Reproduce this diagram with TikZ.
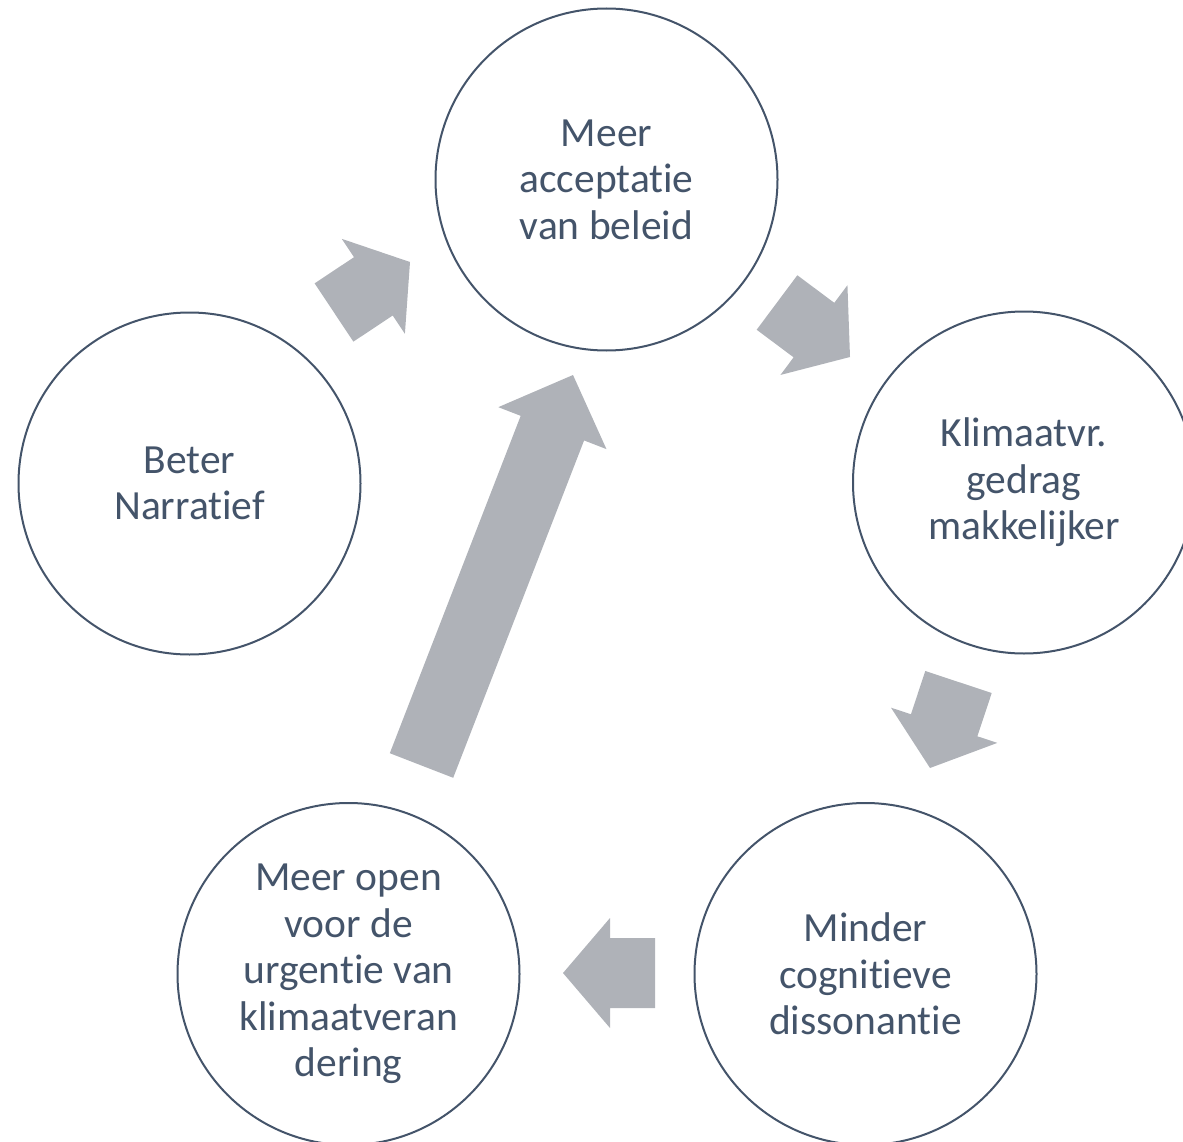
\documentclass[tikz,border=0pt]{standalone}
\usepackage{fontspec}
\setmainfont{Carlito}[Ligatures={NoCommon,NoContextual}]
\usetikzlibrary{calc}
\definecolor{txt}{RGB}{68,84,106}
\definecolor{arr}{RGB}{175,178,184}
\tikzset{
  stage/.style={circle, draw=txt, line width=2pt, minimum size=342pt, inner sep=0pt,
    align=center, text=txt, font=\fontsize{41.5}{46.5}\selectfont},
  blockfill/.style={fill=arr, draw=none}
}
% #1 tail coordinate, #2 tip coordinate, #3 half shaft width, #4 half head width, #5 head length
\newcommand\blockarrow[5]{%
  \coordinate (hb) at ($(#2)!#5!(#1)$);
  \fill[blockfill] ($(#1)!#3!90:(#2)$) -- ($(hb)!#3!90:(#2)$) -- ($(hb)!#4!90:(#2)$) -- (#2)
    -- ($(hb)!#4!-90:(#2)$) -- ($(hb)!#3!-90:(#2)$) -- ($(#1)!#3!-90:(#2)$) -- cycle;
}
\begin{document}
\begin{tikzpicture}[x=1pt,y=-1pt]
\useasboundingbox (0,0) rectangle (1183,1142);
% arrow end points
\coordinate (a1s) at (334,312.5);  \coordinate (a1e) at (410,262);
\coordinate (a2s) at (777,302.5);  \coordinate (a2e) at (850,357);
\coordinate (a3s) at (958.5,682);  \coordinate (a3e) at (930,768);
\coordinate (a4s) at (655,973);    \coordinate (a4e) at (563,973);
\coordinate (a5s) at (421.5,765.5);\coordinate (a5e) at (573,375);
\blockarrow{a1s}{a1e}{35pt}{57pt}{44pt}
\blockarrow{a2s}{a2e}{34pt}{56pt}{45pt}
\blockarrow{a3s}{a3e}{35pt}{56pt}{45pt}
\blockarrow{a4s}{a4e}{35pt}{55pt}{47pt}
\blockarrow{a5s}{a5e}{34pt}{58pt}{57pt}
% circles
\node[stage] (top)    at (606.5,179.5) {Meer\\acceptatie\\van beleid};
\node[stage] (right)  at (1024,482.5)  {Klimaatvr.\\gedrag\\makkelijker};
\node[stage] (bright) at (865.5,974)   {Minder\\cognitieve\\dissonantie};
\node[stage] (bleft)  at (348.5,974)   {Meer open\\voor de\\urgentie van\\klimaatveran\\dering};
\node[stage] (left)   at (189.5,483.5) {Beter\\Narratief};
\end{tikzpicture}
\end{document}
